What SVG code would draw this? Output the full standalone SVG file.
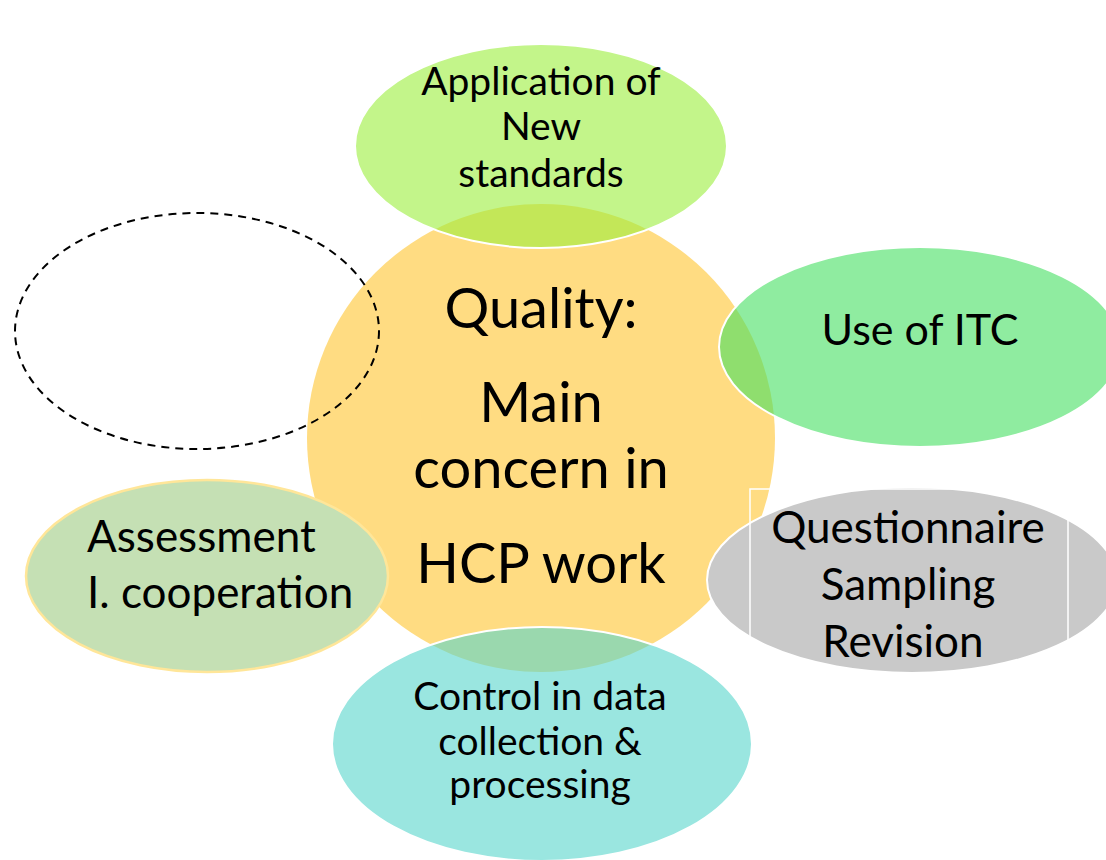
<svg xmlns="http://www.w3.org/2000/svg" width="1106" height="860" viewBox="0 0 1106 860">
<style>
text{font-family:Lato,"Open Sans","Liberation Sans",sans-serif;fill:#000;text-anchor:middle}
.t39{font-size:39px}.t43{font-size:43px}.t44{font-size:44px}.t56{font-size:56px}
.edge{stroke:#fff;stroke-width:2}
</style>
<rect width="1106" height="860" fill="#fff"/>
<g id="center">
<circle cx="541" cy="438" r="234" fill="#FFDC82"/>
</g>
<g id="top">
<ellipse cx="541" cy="146" rx="186" ry="102" fill="#9BEE3C" fill-opacity="0.6" class="edge"/>
<text class="t39" x="541" y="95">Application of</text>
<text class="t39" x="541" y="140">New</text>
<text class="t39" x="541" y="187">standards</text>
</g>
<g id="itc">
<ellipse cx="920" cy="347" rx="201" ry="100" fill="#44DF61" fill-opacity="0.6" class="edge"/>
<text class="t43" x="920" y="345">Use of ITC</text>
</g>
<g id="control">
<ellipse cx="542" cy="744" rx="210" ry="117" fill="#57D5CB" fill-opacity="0.6" class="edge"/>
<text class="t39" x="540" y="710">Control in data</text>
<text class="t39" x="540" y="755">collection &amp;</text>
<text class="t39" x="540" y="798">processing</text>
</g>
<g id="questionnaire">
<ellipse cx="912" cy="580" rx="205" ry="93" fill="#C9C9C9" class="edge"/>
<rect x="750" y="489" width="318" height="200" fill="none" stroke="#fff" stroke-width="1.5"/>
<text class="t44" x="908" y="543">Questionnaire</text>
<text class="t44" x="908" y="600">Sampling</text>
<text class="t44" x="903" y="657">Revision</text>
</g>
<g id="assessment">
<ellipse cx="207" cy="576" rx="181" ry="96" fill="#C5E0B4" stroke="#FFE699" stroke-width="2.5"/>
<text class="t44" x="87" y="552" style="text-anchor:start">Assessment</text>
<text class="t44" x="87" y="608" style="text-anchor:start">I. cooperation</text>
</g>
<g id="center-label">
<text class="t56" x="541" y="328">Quality:</text>
<text class="t56" x="541" y="422">Main</text>
<text class="t56" x="541" y="488">concern in</text>
<text class="t56" x="541" y="583">HCP work</text>
</g>
<g id="placeholder">
<ellipse cx="197" cy="331" rx="182" ry="118" fill="none" stroke="#000" stroke-width="2" stroke-dasharray="8 6"/>
</g>
<g id="connectors"></g>
</svg>
